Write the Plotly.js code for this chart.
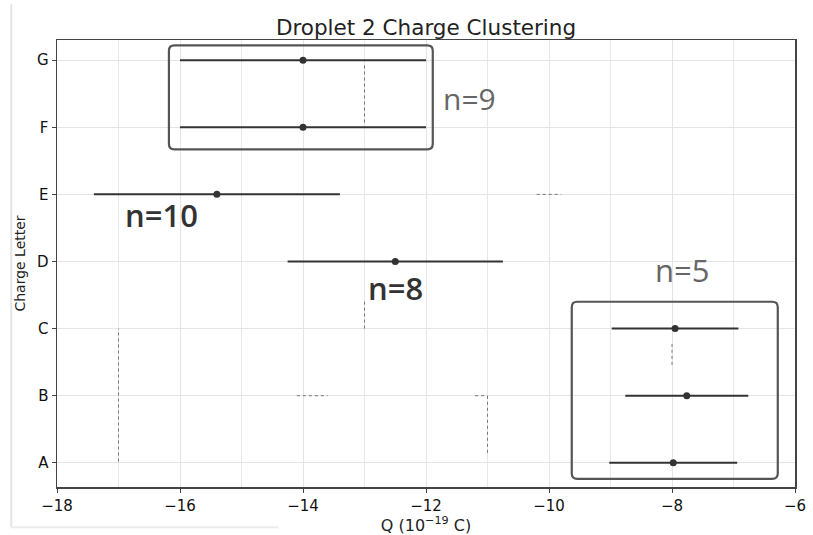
<!DOCTYPE html>
<html><head><meta charset="utf-8">
<script src="https://cdn.plot.ly/plotly-3.0.1.min.js"></script>
<style>html,body{margin:0;padding:0;background:#fff}#chart{width:813px;height:535px}</style>
</head><body><div id="chart"></div>
<script>
var categories = ["A","B","C","D","E","F","G"];
var charges = [-7.98, -7.76, -7.95, -12.5, -15.4, -14.0, -14.0];
var errors = [1.04, 1.0, 1.03, 1.75, 2.0, 2.0, 2.0];
var clusterLabels = ["n=9", "n=10", "n=8", "n=5"];

var trace = {
  type: "scatter", mode: "markers",
  x: charges, y: categories,
  marker: {color: "#333", size: 7},
  error_x: {type: "data", array: errors, visible: true, color: "#333", thickness: 2, width: 0},
  hoverinfo: "x+y"
};

function rbox(x0, x1, y0, y1) {
  var rx = 0.09, ry = 0.08;
  return "M " + (x0+rx) + "," + y1 + " L " + (x1-rx) + "," + y1 +
    " Q " + x1 + "," + y1 + " " + x1 + "," + (y1-ry) +
    " L " + x1 + "," + (y0+ry) + " Q " + x1 + "," + y0 + " " + (x1-rx) + "," + y0 +
    " L " + (x0+rx) + "," + y0 + " Q " + x0 + "," + y0 + " " + x0 + "," + (y0+ry) +
    " L " + x0 + "," + (y1-ry) + " Q " + x0 + "," + y1 + " " + (x0+rx) + "," + y1 + " Z";
}

var dot = {color: "#777", width: 1, dash: "dot"};
var shapes = [
  {type: "path", xref: "x", yref: "y", path: rbox(-16.18, -11.89, 4.67, 6.22), line: {color: "#555", width: 2.2}},
  {type: "path", xref: "x", yref: "y", path: rbox(-9.63, -6.28, -0.24, 2.40), line: {color: "#555", width: 2.2}},
  {type: "line", xref: "x", yref: "y", x0: -17, x1: -17, y0: 0.02, y1: 2.0, line: dot},
  {type: "line", xref: "x", yref: "y", x0: -13, x1: -13, y0: 5.07, y1: 5.92, line: dot},
  {type: "line", xref: "x", yref: "y", x0: -13, x1: -13, y0: 2.0, y1: 2.4, line: dot},
  {type: "line", xref: "x", yref: "y", x0: -11, x1: -11, y0: 0.15, y1: 1.0, line: dot},
  {type: "line", xref: "x", yref: "y", x0: -11.2, x1: -11, y0: 1.0, y1: 1.0, line: dot},
  {type: "line", xref: "x", yref: "y", x0: -14.1, x1: -13.6, y0: 1.0, y1: 1.0, line: dot},
  {type: "line", xref: "x", yref: "y", x0: -10.2, x1: -9.8, y0: 4.0, y1: 4.0, line: dot},
  {type: "line", xref: "x", yref: "y", x0: -8, x1: -8, y0: 1.46, y1: 1.8, line: dot},
  {type: "line", xref: "paper", yref: "paper", x0: -0.062, x1: -0.062, y0: -0.09, y1: 1.08, line: {color: "#e4e4e4", width: 2}},
  {type: "line", xref: "paper", yref: "paper", x0: -0.062, x1: 0.3, y0: -0.09, y1: -0.09, line: {color: "#ececec", width: 2}}
];

var annotations = [
  {x: -11.3, y: 5.43, text: clusterLabels[0], font: {size: 30, color: "#666", family: "Open Sans"}},
  {x: -16.3, y: 3.69, text: clusterLabels[1], font: {size: 31, color: "#333", family: "Open Sans", weight: 600}},
  {x: -12.5, y: 2.6, text: clusterLabels[2], font: {size: 31, color: "#333", family: "Open Sans", weight: 600}},
  {x: -7.83, y: 2.88, text: clusterLabels[3], font: {size: 31, color: "#666", family: "Open Sans"}}
].map(function(a){ a.xref = "x"; a.yref = "y"; a.showarrow = false; return a; });

var layout = {
  width: 813, height: 535,
  margin: {l: 57, r: 18, t: 40, b: 48},
  paper_bgcolor: "#fff", plot_bgcolor: "#fff",
  font: {family: "DejaVu Sans", color: "#111", size: 15},
  title: {text: "Droplet 2 Charge Clustering", xref: "paper", x: 0.5, xanchor: "center", y: 0.962, yanchor: "top", font: {size: 21.5, color: "#222"}},
  showlegend: false,
  xaxis: {
    range: [-18, -6], dtick: 2, tick0: -18,
    showgrid: true, gridcolor: "#e4e4e4", gridwidth: 1,
    minor: {dtick: 1, showgrid: true, gridcolor: "#e8e8e8", gridwidth: 1},
    showline: true, linecolor: "#444", linewidth: 1.5, mirror: true,
    ticks: "outside", ticklen: 4, tickcolor: "#444",
    zeroline: false,
    title: {text: "Q (10<sup>−19</sup> C)", font: {size: 16, color: "#222"}, standoff: 4},
    tickfont: {size: 15, color: "#111"}
  },
  yaxis: {
    type: "category", categoryorder: "array", categoryarray: categories,
    range: [-0.36, 6.3],
    showgrid: true, gridcolor: "#e4e4e4", gridwidth: 1,
    showline: true, linecolor: "#444", linewidth: 1.5, mirror: true,
    ticks: "outside", ticklen: 4, tickcolor: "#444",
    zeroline: false,
    title: {text: "Charge Letter", font: {size: 14, color: "#222"}, standoff: 8},
    tickfont: {size: 15, color: "#111"}
  },
  shapes: shapes,
  annotations: annotations
};

Plotly.newPlot("chart", [trace], layout, {displayModeBar: false, staticPlot: true});
</script>
</body></html>
